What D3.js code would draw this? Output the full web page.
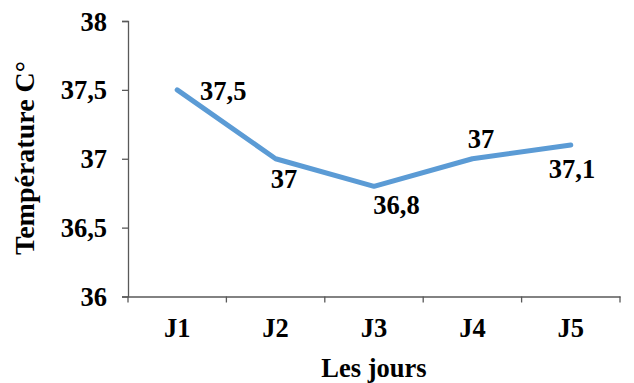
<!DOCTYPE html>
<html><head><meta charset="utf-8">
<script src="https://cdn.jsdelivr.net/npm/d3@7"></script>
<style>
body{margin:0;background:#fff;}
</style></head>
<body><svg id="c" width="634" height="383"></svg>
<script>
const categories = ["J1","J2","J3","J4","J5"];
const temperatures = [37.5, 37, 36.8, 37, 37.1];
const valueLabels = ["37,5","37","36,8","37","37,1"];
const yTicks = [36, 36.5, 37, 37.5, 38];
const yTickLabels = ["36","36,5","37","37,5","38"];
// label offsets from each point (pixels), style only
const labelOffsets = [[46, 1.5], [8.5, 20], [22.5, 19], [8.7, -19.5], [1.2, 24.5]];

const FONT = "'Liberation Serif'";
const svg = d3.select("#c");
const m = {left:128, right:14, top:21, bottom:86.5};
const W = 634, H = 383;
const x = d3.scaleBand().domain(categories).range([m.left, W - m.right]);
const y = d3.scaleLinear().domain([36, 38]).range([H - m.bottom, m.top]);
const fmt = d => yTickLabels[yTicks.indexOf(d)];
function styleText(s, size) {
  s.attr("font-family", null).style("font-family", FONT).style("font-weight", "bold")
   .style("font-size", (size || 26.5) + "px").attr("fill", "#000");
}
const AX = "#595959";

// y axis
const ya = svg.append("g").attr("transform", `translate(${m.left},0)`)
  .call(d3.axisLeft(y).tickValues(yTicks).tickFormat(fmt).tickSize(6).tickPadding(15));
ya.attr("font-family", null).attr("font-size", null);
ya.select(".domain").attr("stroke", AX).attr("stroke-width", 1.3);
ya.selectAll(".tick line").attr("stroke", AX).attr("stroke-width", 1.3);
ya.selectAll(".tick text").call(styleText).attr("dy", "0.34em");

// x axis
const xa = svg.append("g").attr("transform", `translate(0,${y(36)})`)
  .call(d3.axisBottom(x).tickSize(0).tickPadding(22));
xa.attr("font-family", null).attr("font-size", null);
xa.select(".domain").attr("stroke", AX).attr("stroke-width", 1.3);
xa.selectAll(".tick text").call(styleText).attr("dy", "0.71em");
// band boundary ticks
const bounds = categories.map(c => x(c)).concat([x(categories[categories.length-1]) + x.bandwidth()]);
xa.selectAll(".btick").data(bounds).enter().append("line")
  .attr("x1", d => d).attr("x2", d => d).attr("y1", 0).attr("y2", 6)
  .attr("stroke", AX).attr("stroke-width", 1.3);

// line
const cx = d => x(d) + x.bandwidth()/2;
const line = d3.line().x((d,i) => cx(categories[i])).y(d => y(d));
svg.append("path").datum(temperatures).attr("d", line)
  .attr("fill", "none").attr("stroke", "#5B9BD5").attr("stroke-width", 5)
  .attr("stroke-linecap", "round").attr("stroke-linejoin", "round");

// data labels
svg.selectAll(".vl").data(temperatures).enter().append("text")
  .attr("x", (d,i) => cx(categories[i]) + labelOffsets[i][0])
  .attr("y", (d,i) => y(d) + labelOffsets[i][1])
  .attr("dy", "0.34em").attr("text-anchor", "middle")
  .call(styleText).text((d,i) => valueLabels[i]);

// axis titles
svg.append("text").attr("x", (m.left + W - m.right)/2).attr("y", 376.5)
  .attr("text-anchor", "middle").call(styleText).text("Les jours");
svg.append("text").attr("transform", `translate(34,158) rotate(-90)`)
  .attr("text-anchor", "middle").call(styleText, 28).text("Température C°");
</script></body></html>
